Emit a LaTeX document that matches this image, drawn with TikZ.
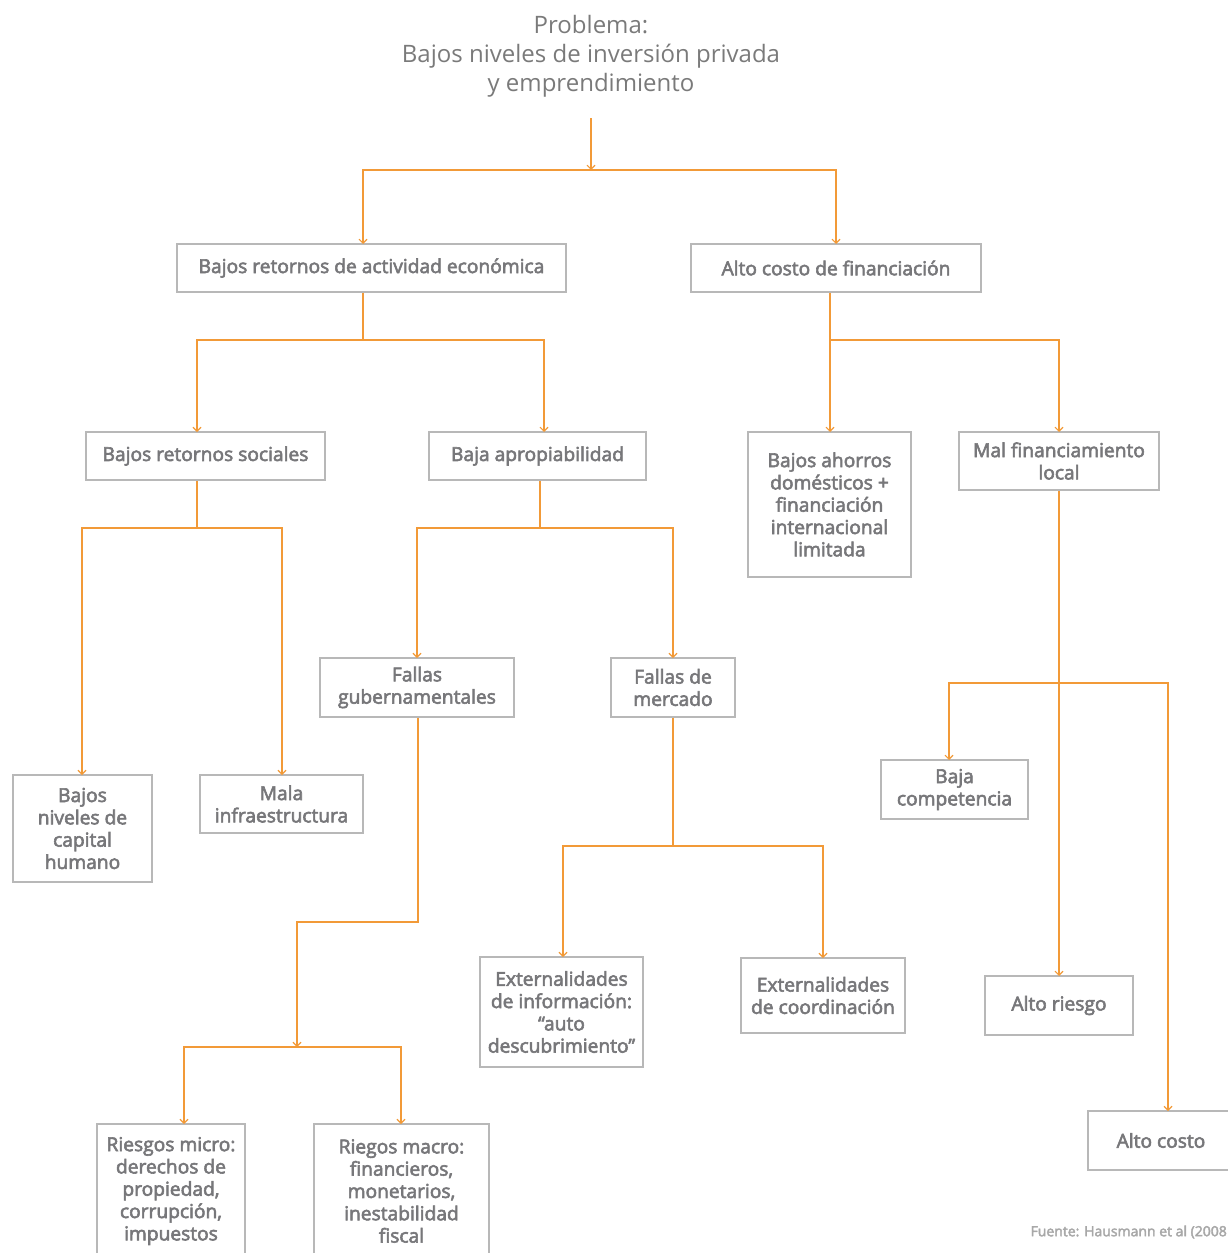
\documentclass[tikz,border=0pt]{standalone}
\usepackage{fontspec}
\setmainfont{Open Sans}
\newfontfamily\semib{Open Sans}[FakeBold=3]
\usetikzlibrary{arrows.meta}
\definecolor{txt}{HTML}{77777A}
\definecolor{ttl}{HTML}{7A7A7A}
\definecolor{src}{HTML}{A8A8A8}
\definecolor{brd}{HTML}{B8B8B8}
\definecolor{org}{HTML}{F29A38}
\tikzset{
  box/.style={draw=brd, line width=1.1pt, inner sep=0pt, align=center, text=txt,
    font=\semib\fontsize{19.2}{22.3}\selectfont},
  line/.style={draw=org, line width=1.1pt},
  arr/.style={line, -{Straight Barb[length=4pt,width=8pt,line width=1.1pt]}},
}
\begin{document}
\begin{tikzpicture}[x=1pt,y=-1pt]
\useasboundingbox (0,0) rectangle (1228,1253);
\clip (0,0) rectangle (1228,1253);
% title
\node[align=center, text=ttl, font=\fontsize{24}{29}\selectfont] (title) at (591,56.5)
  {Problema:\\Bajos niveles de inversión privada\\y emprendimiento};
% boxes
\node[box, minimum width=389, minimum height=48] (A) at (371.5,268) {Bajos retornos de actividad económica};
\node[box, minimum width=290, minimum height=48] (B) at (836,268) {Alto costo de financiación};
\node[box, minimum width=239, minimum height=48] (C) at (205.5,456) {Bajos retornos sociales};
\node[box, minimum width=217, minimum height=48] (D) at (537.5,456) {Baja apropiabilidad};
\node[box, minimum width=163, minimum height=145] (E) at (829.5,504.5) {Bajos ahorros\\domésticos +\\financiación\\internacional\\limitada};
\node[box, minimum width=200, minimum height=58] (F) at (1059,461) {Mal financiamiento\\local};
\node[box, minimum width=139, minimum height=107] (G) at (82.5,828.5) {Bajos\\niveles de\\capital\\humano};
\node[box, minimum width=163, minimum height=58] (H) at (281.5,804) {Mala\\infraestructura};
\node[box, minimum width=194, minimum height=59] (I) at (417,687.5) {Fallas\\gubernamentales};
\node[box, minimum width=124, minimum height=59] (J) at (673,687.5) {Fallas de\\mercado};
\node[box, minimum width=148, minimum height=134] (K) at (171,1191) {Riesgos micro:\\derechos de\\propiedad,\\corrupción,\\impuestos};
\node[box, minimum width=175, minimum height=134] (L) at (401.5,1191) {Riegos macro:\\financieros,\\monetarios,\\inestabilidad\\fiscal};
\node[box, minimum width=163, minimum height=110] (M) at (561.5,1012) {Externalidades\\de información:\\“auto\\descubrimiento”};
\node[box, minimum width=164, minimum height=75] (N) at (823,995.5) {Externalidades\\de coordinación};
\node[box, minimum width=147, minimum height=59] (O) at (954.5,789.5) {Baja\\competencia};
\node[box, minimum width=148, minimum height=59] (P) at (1059,1005.5) {Alto riesgo};
\node[box, minimum width=146, minimum height=59] (Q) at (1161,1140.5) {Alto costo};
\node[anchor=east, inner sep=0pt, text=src, font=\semib\fontsize{14}{16}\selectfont] (fuente) at (1227,1232) {Fuente: Hausmann et al (2008};
% connector coordinates
\coordinate (t0) at (591,118);
\coordinate (j0) at (591,170);
\coordinate (aA) at (363,244);
\coordinate (aB) at (836,244);
\coordinate (a1) at (363,340);
\coordinate (aC) at (197,432);
\coordinate (aD) at (544,432);
\coordinate (b1) at (830,340);
\coordinate (aE) at (830,432);
\coordinate (aF) at (1059,432);
\coordinate (c1) at (197,528);
\coordinate (aG) at (82,775);
\coordinate (aH) at (282,775);
\coordinate (d1) at (540,528);
\coordinate (aI) at (417,658);
\coordinate (aJ) at (673,658);
\coordinate (i1) at (418,922);
\coordinate (i2) at (297,1047);
\coordinate (aK) at (184,1124);
\coordinate (aL) at (401,1124);
\coordinate (m1) at (673,846);
\coordinate (aM) at (563,957);
\coordinate (aN) at (823,958);
\coordinate (f1) at (1059,683);
\coordinate (aO) at (949,760);
\coordinate (aP) at (1059,976);
\coordinate (aQ) at (1168,1111);
% connectors
\draw[arr] (t0) -- (j0);
\draw[arr] (j0) -| (aA);
\draw[arr] (j0) -| (aB);
\draw[line] (A.south -| a1) -- (a1);
\draw[arr] (a1) -| (aC);
\draw[arr] (a1) -| (aD);
\draw[arr] (B.south -| b1) -- (aE);
\draw[arr] (b1) -| (aF);
\draw[line] (C.south -| c1) -- (c1);
\draw[arr] (c1) -| (aG);
\draw[arr] (c1) -| (aH);
\draw[line] (D.south -| d1) -- (d1);
\draw[arr] (d1) -| (aI);
\draw[arr] (d1) -| (aJ);
\draw[arr] (I.south -| i1) -- (i1) -| (i2);
\draw[arr] (i2) -| (aK);
\draw[arr] (i2) -| (aL);
\draw[line] (J.south -| m1) -- (m1);
\draw[arr] (m1) -| (aM);
\draw[arr] (m1) -| (aN);
\draw[arr] (F.south -| f1) -- (aP);
\draw[arr] (f1) -| (aO);
\draw[arr] (f1) -| (aQ);
\end{tikzpicture}
\end{document}
